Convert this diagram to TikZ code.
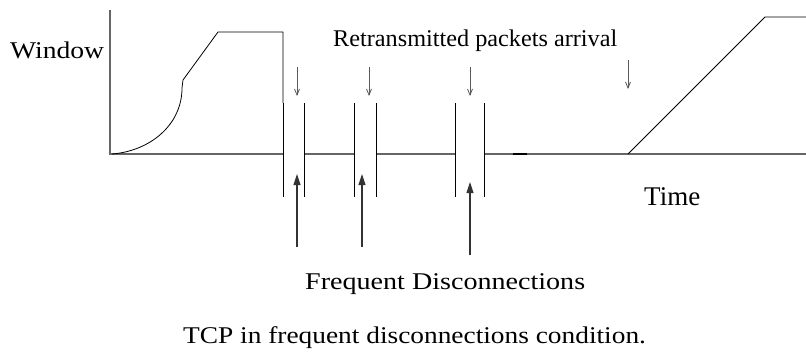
\documentclass[tikz,border=0pt]{standalone}
\usepackage{fontspec}
\setmainfont{Liberation Serif}
\usetikzlibrary{arrows.meta}
\newcommand{\wide}[2]{\scalebox{#1}[1]{#2}}
\begin{document}
\begin{tikzpicture}[x=1pt,y=-1pt,
  axis/.style={draw=black!60, line width=1.1pt},
  curve/.style={draw=black, line width=0.8pt, line join=round},
  gapline/.style={draw=black, line width=1pt},
  downarrow/.style={draw=black!65, line width=0.8pt, -{Straight Barb[length=6pt,width=5pt]}},
  uparrow/.style={draw=black!80, line width=1.1pt, -{Triangle[length=11pt,width=7pt]}},
  lbl/.style={inner sep=0pt, anchor=base west, font=\fontsize{24}{28}\selectfont}
]
\useasboundingbox (0,0) rectangle (806,356);

% axes
\coordinate (ytop) at (110,10);
\coordinate (o) at (110,154);
\coordinate (xend) at (806,154);

% disconnection gaps: left and right edges on the time axis
\coordinate (g1l) at (283,154); \coordinate (g1r) at (304,154);
\coordinate (g2l) at (354,154); \coordinate (g2r) at (376,154);
\coordinate (g3l) at (455,154); \coordinate (g3r) at (484,154);

\draw[axis] (ytop) -- (o) -- (g1l);
\draw[axis] (g1r) -- (g2l);
\draw[axis] (g2r) -- (g3l);
\draw[axis] (g3r) -- (xend);
\draw[black, line width=1.6pt] (513,154) -- (527,154);

% gap edges
\draw[gapline] (283,103) -- (283,197);
\draw[gapline] (304,103) -- (304,197);
\draw[gapline] (354,103) -- (354,197);
\draw[gapline] (376,103) -- (376,197);
\draw[gapline] (455,103) -- (455,197);
\draw[gapline] (484,103) -- (484,197);

% window growth before the first disconnection
\draw[curve] (112,154) .. controls (150,151) and (182,125) .. (182,88)
  -- (183,80) -- (218,32) -- (283,32) -- (283,103);

% window growth after reconnection
\coordinate (rs) at (628,154);
\draw[curve] (rs) -- (765,17) -- (806,17);

% retransmitted packets arrival
\coordinate (d1a) at (297,67); \coordinate (d1b) at (297,96);
\coordinate (d2a) at (369,67); \coordinate (d2b) at (369,96);
\coordinate (d3a) at (470,67); \coordinate (d3b) at (470,96);
\coordinate (d4a) at (628,60); \coordinate (d4b) at (628,89);
\draw[downarrow] (d1a) -- (d1b);
\draw[downarrow] (d2a) -- (d2b);
\draw[downarrow] (d3a) -- (d3b);
\draw[downarrow] (d4a) -- (d4b);

% disconnections
\coordinate (u1a) at (297,247); \coordinate (u1b) at (297,174);
\coordinate (u2a) at (362,247); \coordinate (u2b) at (362,174);
\coordinate (u3a) at (470,255); \coordinate (u3b) at (470,182);
\draw[uparrow] (u1a) -- (u1b);
\draw[uparrow] (u2a) -- (u2b);
\draw[uparrow] (u3a) -- (u3b);

% labels
\node[lbl] (window) at (10,58) {\wide{1.15}{Window}};
\node[lbl] (retx) at (333,46) {\wide{1.01}{Retransmitted packets arrival}};
\node[lbl, font=\fontsize{27}{30}\selectfont] (time) at (644,205) {\wide{1.0}{Time}};
\node[lbl] (freq) at (305,289) {\wide{1.17}{Frequent Disconnections}};
\node[lbl] (cap) at (183,343) {\wide{1.14}{TCP in frequent disconnections condition.}};
\end{tikzpicture}
\end{document}
